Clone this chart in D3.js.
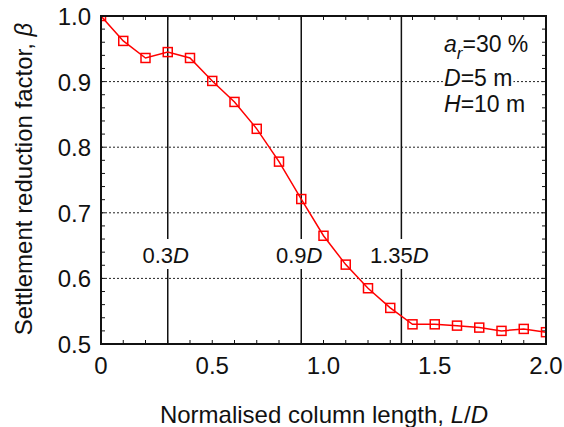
<!DOCTYPE html>
<html>
<head>
<meta charset="utf-8">
<script src="https://cdn.jsdelivr.net/npm/d3@7"></script>
<style>
  body { margin: 0; background: #fff; }
  svg text { font-family: "Liberation Sans", Arial, sans-serif; fill: #111; }
</style>
</head>
<body>
<svg id="chart" width="564" height="427"></svg>
<script>
// normalised column length L/D
const ratios = [0, 0.1, 0.2, 0.3, 0.4, 0.5, 0.6, 0.7, 0.8, 0.9, 1.0,
                1.1, 1.2, 1.3, 1.4, 1.5, 1.6, 1.7, 1.8, 1.9, 2.0];
// settlement reduction factor beta
const beta = [1.000, 0.962, 0.936, 0.945, 0.936, 0.901, 0.869, 0.828, 0.778, 0.721, 0.665,
              0.621, 0.585, 0.555, 0.530, 0.530, 0.528, 0.525, 0.520, 0.523, 0.518];
const xTicks = [0, 0.5, 1.0, 1.5, 2.0];
const yTicks = [0.5, 0.6, 0.7, 0.8, 0.9, 1.0];
const gridY = [0.6, 0.7, 0.8, 0.9];
const markers = [
  { x: 0.3, label: "0.3" },
  { x: 0.9, label: "0.9" },
  { x: 1.35, label: "1.35" }
];

const svg = d3.select("#chart");
const pL = 101, pR = 546, pT = 16, pB = 344;

const x = d3.scaleLinear().domain([0, 2]).range([pL, pR]);
const y = d3.scaleLinear().domain([0.5, 1.0]).range([pB, pT]);

svg.append("clipPath").attr("id", "plot-clip")
  .append("rect")
  .attr("x", pL).attr("y", pT)
  .attr("width", pR - pL).attr("height", pB - pT);

// dotted horizontal grid
svg.append("g").selectAll("line")
  .data(gridY)
  .join("line")
  .attr("x1", pL).attr("x2", pR)
  .attr("y1", d => y(d)).attr("y2", d => y(d))
  .attr("stroke", "#222")
  .attr("stroke-width", 1)
  .attr("stroke-dasharray", "2,2");

// vertical reference lines
svg.append("g").selectAll("line")
  .data(markers)
  .join("line")
  .attr("x1", d => x(d.x)).attr("x2", d => x(d.x))
  .attr("y1", pT).attr("y2", pB)
  .attr("stroke", "#111")
  .attr("stroke-width", 1.5);

// put a white box behind a text so lines underneath are knocked out
function knockout(g, t, y0, h) {
  const b = t.node().getBBox();
  g.insert("rect", () => t.node())
    .attr("x", b.x - 1).attr("y", y0)
    .attr("width", b.width + 2).attr("height", h)
    .attr("fill", "#fff");
}

// reference line labels
const mg = svg.append("g");
markers.forEach(m => {
  const t = mg.append("text")
    .attr("x", x(m.x) - 2)
    .attr("y", 263)
    .attr("text-anchor", "middle")
    .attr("font-size", 22);
  t.append("tspan").text(m.label);
  t.append("tspan").attr("font-style", "italic").text("D");
  knockout(mg, t, 239, 30);
});

// minor ticks, inward on all four sides
const minorX = d3.range(0, 2.0001, 0.1);
const minorY = d3.range(0.5, 1.0001, 0.02);
const ticks = svg.append("g").attr("stroke", "#111").attr("stroke-width", 1);
ticks.selectAll(".tb").data(minorX).join("line")
  .attr("x1", d => x(d)).attr("x2", d => x(d))
  .attr("y1", pB).attr("y2", pB - 4);
ticks.selectAll(".tt").data(minorX).join("line")
  .attr("x1", d => x(d)).attr("x2", d => x(d))
  .attr("y1", pT).attr("y2", pT + 4);
ticks.selectAll(".tl").data(minorY).join("line")
  .attr("x1", pL).attr("x2", pL + 4)
  .attr("y1", d => y(d)).attr("y2", d => y(d));
ticks.selectAll(".tr").data(minorY).join("line")
  .attr("x1", pR).attr("x2", pR - 4)
  .attr("y1", d => y(d)).attr("y2", d => y(d));

// data line and markers
const plot = svg.append("g").attr("clip-path", "url(#plot-clip)");
const pts = ratios.map((r, i) => [r, beta[i]]);
plot.append("path")
  .datum(pts)
  .attr("fill", "none")
  .attr("stroke", "#ff0000")
  .attr("stroke-width", 1.5)
  .attr("d", d3.line().x(d => x(d[0])).y(d => y(d[1])));
plot.selectAll("rect.m")
  .data(pts)
  .join("rect")
  .attr("class", "m")
  .attr("x", d => x(d[0]) - 4.5)
  .attr("y", d => y(d[1]) - 4.5)
  .attr("width", 9).attr("height", 9)
  .attr("fill", "none")
  .attr("stroke", "#ff0000")
  .attr("stroke-width", 1.5);

// frame
svg.append("rect")
  .attr("x", pL).attr("y", pT)
  .attr("width", pR - pL).attr("height", pB - pT)
  .attr("fill", "none")
  .attr("stroke", "#111")
  .attr("stroke-width", 2);

// tick labels
svg.append("g").selectAll("text")
  .data(xTicks)
  .join("text")
  .attr("x", d => x(d))
  .attr("y", 374)
  .attr("text-anchor", "middle")
  .attr("font-size", 24)
  .text(d => d === 0 ? "0" : d.toFixed(1));

svg.append("g").selectAll("text")
  .data(yTicks)
  .join("text")
  .attr("x", 91)
  .attr("y", d => y(d) + 9)
  .attr("text-anchor", "end")
  .attr("font-size", 24)
  .text(d => d.toFixed(1));

// annotation box
const ann = svg.append("g").attr("font-size", 23);
const a1 = ann.append("text").attr("x", 444).attr("y", 52);
a1.append("tspan").attr("font-style", "italic").text("a");
a1.append("tspan").attr("font-style", "italic").attr("font-size", 17).attr("dy", 7).text("r");
a1.append("tspan").attr("dy", -7).text("=30 %");
const a2 = ann.append("text").attr("x", 444).attr("y", 86);
a2.append("tspan").attr("font-style", "italic").text("D");
a2.append("tspan").text("=5 m");
knockout(ann, a2, 70, 20);
const a3 = ann.append("text").attr("x", 444).attr("y", 112);
a3.append("tspan").attr("font-style", "italic").text("H");
a3.append("tspan").text("=10 m");

// axis titles
const xt = svg.append("text")
  .attr("x", 324)
  .attr("y", 423)
  .attr("text-anchor", "middle")
  .attr("font-size", 24);
xt.append("tspan").text("Normalised column length, ");
xt.append("tspan").attr("font-style", "italic").text("L");
xt.append("tspan").text("/");
xt.append("tspan").attr("font-style", "italic").text("D");

const yt = svg.append("text")
  .attr("transform", "translate(32,179) rotate(-90)")
  .attr("text-anchor", "middle")
  .attr("font-size", 24);
yt.append("tspan").text("Settlement reduction factor, ");
yt.append("tspan").attr("font-style", "italic").text("β");
</script>
</body>
</html>
